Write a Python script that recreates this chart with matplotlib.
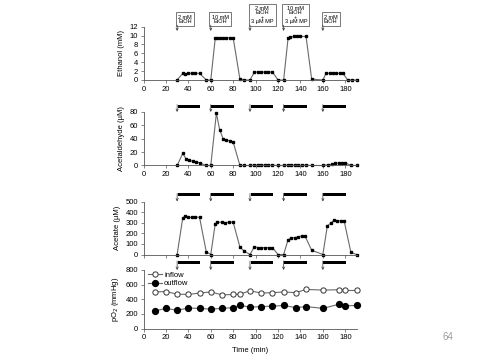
import matplotlib
matplotlib.use('Agg')
import matplotlib.pyplot as plt
import matplotlib.transforms as mtransforms
from matplotlib.patches import Rectangle

plt.rcParams['font.family'] = ['Liberation Sans', 'DejaVu Sans']

# ethanol (mM)
eth_t = [30, 35, 37, 40, 43, 46, 50, 56, 60, 64, 66, 68, 71, 74, 77, 80, 86, 90, 95,
         99, 102, 105, 108, 111, 115, 120, 125, 129, 131, 134, 137, 140, 145, 150, 160,
         163, 166, 169, 172, 175, 178, 182, 186, 190]
eth_v = [0, 1.5, 1.4, 1.5, 1.5, 1.5, 1.5, 0, 0, 9.4, 9.5, 9.5, 9.5, 9.5, 9.5, 9.5, 0.2, 0, 0,
         1.8, 1.8, 1.8, 1.8, 1.8, 1.8, 0, 0, 9.5, 9.7, 9.8, 9.8, 9.8, 9.8, 0.2, 0,
         1.6, 1.5, 1.5, 1.5, 1.5, 1.5, 0, 0, 0]

# acetaldehyde (uM)
ald_t = [30, 35, 38, 41, 44, 47, 50, 56, 60, 65, 68, 71, 74, 77, 80, 86, 90, 95,
         99, 102, 105, 108, 111, 115, 120, 125, 129, 132, 135, 138, 141, 145, 150, 160,
         165, 168, 171, 174, 177, 180, 185, 190]
ald_v = [0, 18, 10, 8, 6, 5, 4, 0, 0, 78, 53, 40, 38, 37, 35, 0, 0, 0,
         1, 1, 0.5, 0.5, 0.5, 0.5, 0, 0, 0.5, 0.5, 0.5, 0.5, 0.5, 0.5, 0, 0,
         1, 2, 3, 4, 4, 4, 0, 0]

# acetate (uM)
ace_t = [30, 35, 37, 40, 43, 46, 50, 56, 60, 64, 66, 70, 73, 76, 80, 86, 90, 95,
         99, 102, 105, 108, 112, 115, 120, 125, 129, 132, 135, 138, 141, 144, 150, 160,
         164, 167, 170, 173, 176, 179, 185, 190]
ace_v = [0, 345, 360, 350, 350, 355, 350, 25, 0, 290, 305, 305, 300, 305, 305, 70, 30, 0,
         75, 65, 65, 65, 65, 65, 0, 0, 140, 155, 160, 165, 175, 175, 40, 0,
         270, 295, 325, 315, 320, 315, 20, 0]

# pO2 (mmHg)
po2_t = [10, 20, 30, 40, 50, 60, 70, 80, 86, 95, 105, 115, 125, 136, 145, 160, 174, 180, 190]
inflow = [500, 505, 470, 465, 485, 500, 460, 465, 470, 515, 485, 490, 500, 490, 535, 525, 530, 520, 520]
outflow = [240, 275, 250, 280, 275, 265, 275, 285, 320, 290, 300, 305, 315, 285, 300, 275, 330, 310, 315]

# perfusion periods
starts = [30, 60, 95, 125, 160]
box_texts = ['2 mM\nEtOH', '10 mM\nEtOH', '2 mM\nEtOH\n+\n3 µM MP',
             '10 mM\nEtOH\n+\n3 µM MP', '2 mM\nEtOH']

fig = plt.figure(figsize=(4.8, 3.61), dpi=100)
W, H = 480.0, 361.0
left = 143.5 / W
width = 213.0 / W

def make_ax(top_px, bot_px):
    return fig.add_axes([left, 1 - bot_px / H, width, (bot_px - top_px) / H])

ax1 = make_ax(26.7, 80.0)
ax2 = make_ax(112.0, 165.5)
ax3 = make_ax(201.5, 254.5)
ax4 = make_ax(270.0, 328.5)

line_c = '#6a6a6a'
for ax, t, v in [(ax1, eth_t, eth_v), (ax2, ald_t, ald_v), (ax3, ace_t, ace_v)]:
    ax.plot(t, v, '-', color=line_c, lw=0.8, marker='s', ms=2.0,
            mfc='black', mec='black', clip_on=False)

ax4.plot(po2_t, inflow, '-', color=line_c, lw=0.8, marker='o', ms=3.8,
         mfc='white', mec='#333333', mew=0.7, label='inflow', clip_on=False)
ax4.plot(po2_t, outflow, '-', color=line_c, lw=0.8, marker='o', ms=4.2,
         mfc='black', mec='black', label='outflow', clip_on=False)
leg = ax4.legend(loc='upper left', bbox_to_anchor=(0.0, 1.05), frameon=False,
                 fontsize=5.5, handlelength=1.8, handletextpad=0.3,
                 labelspacing=0.15, borderaxespad=0.2)

limits = [(ax1, 12, 2, 'Ethanol (mM)'),
          (ax2, 80, 20, 'Acetaldehyde (µM)'),
          (ax3, 500, 100, 'Acetate (µM)'),
          (ax4, 800, 200, 'pO$_2$ (mmHg)')]
for ax, top, step, lab in limits:
    ax.set_xlim(0, 190)
    ax.set_ylim(0, top)
    ax.set_yticks(range(0, top + 1, step))
    ax.set_xticks(range(0, 181, 20))
    for s in ['top', 'right']:
        ax.spines[s].set_visible(False)
    for s in ['left', 'bottom']:
        ax.spines[s].set_color('#555555')
        ax.spines[s].set_linewidth(0.6)
    ax.tick_params(labelsize=5.5, length=2, width=0.5, color='#555555', pad=2)
    ax.set_ylabel(lab, fontsize=5.5, labelpad=3)
    ax.patch.set_alpha(0)

# acetate panel has no x tick labels
ax3.tick_params(axis='x', labelbottom=False)
ax4.set_xlabel('Time (min)', fontsize=5.5, labelpad=4)

# boxes with arrows above ethanol panel
trans1 = mtransforms.blended_transform_factory(ax1.transData, ax1.transAxes)
for t, txt in zip(starts, box_texts):
    ax1.text(t + 0.8, 1.05, txt, transform=trans1, ha='left', va='bottom',
             multialignment='center', fontsize=4.0, linespacing=0.85, clip_on=False,
             bbox=dict(boxstyle='square,pad=0.4', fc='white', ec='#444444', lw=0.5))
    ax1.annotate('', xy=(t, 0.92), xytext=(t, 1.03), xycoords=trans1, textcoords=trans1,
                 arrowprops=dict(arrowstyle='->', lw=0.5, color='#333333',
                                 mutation_scale=4, shrinkA=0, shrinkB=0))

# bars with arrows above the other panels
for ax, ybar in [(ax2, 1.11), (ax3, 1.125), (ax4, 1.13)]:
    tr = mtransforms.blended_transform_factory(ax.transData, ax.transAxes)
    h = 3.0 / (ax.get_position().height * H)
    for t in starts:
        ax.add_patch(Rectangle((t + 0.5, ybar - h / 2), 20, h, transform=tr,
                               fc='black', ec='none', clip_on=False))
        ax.annotate('', xy=(t, 1.0), xytext=(t, ybar + h / 2), xycoords=tr, textcoords=tr,
                    arrowprops=dict(arrowstyle='->', lw=0.5, color='#333333',
                                    mutation_scale=4, shrinkA=0, shrinkB=0))

fig.text(448 / W, 1 - 337 / H, '64', fontsize=7, color='#9a9a9a', ha='center', va='center')

fig.savefig('out.png', dpi=100)
